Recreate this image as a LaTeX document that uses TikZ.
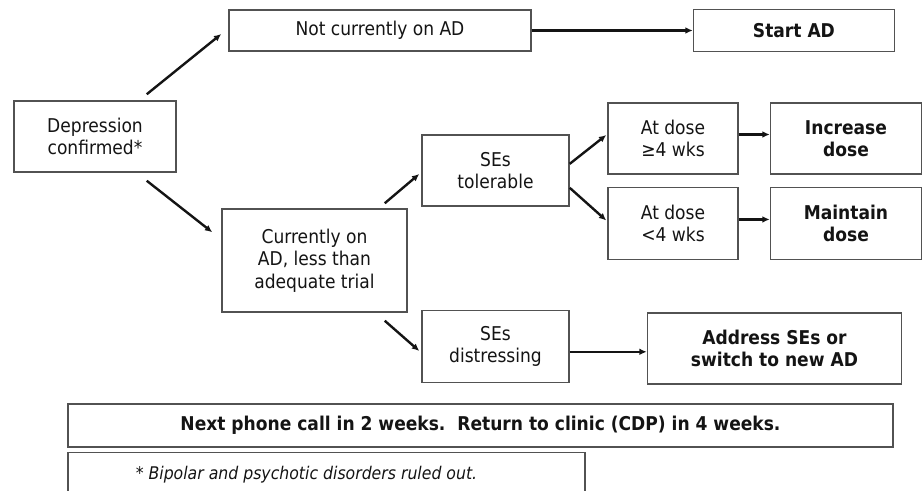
\documentclass[tikz,border=0pt]{standalone}
\usepackage{fontspec}
\setmainfont{DejaVu Sans Condensed}[BoldFont={DejaVu Sans Condensed Bold},ItalicFont={DejaVu Sans Condensed Oblique}]
\usepackage{tikz}
\usetikzlibrary{positioning,arrows.meta}
\colorlet{boxgray}{black!68}
\colorlet{inkgray}{black!92}
\tikzstyle{box}=[draw=boxgray,line width=1.1pt,align=center,inner sep=0pt,text=inkgray,font=\fontsize{14.25}{16.7}\selectfont]
\tikzstyle{boldbox}=[box,font=\fontsize{14.25}{16.7}\selectfont\bfseries]
\tikzstyle{arr}=[line width=1.8pt,draw=inkgray,-{Latex[length=5.5pt,width=5pt]}]

\begin{document}
\begin{tikzpicture}[x=0.75pt,y=-0.75pt]
\useasboundingbox (0,0) rectangle (922,491);

\node[box,minimum width=121.5pt,minimum height=53.25pt] (dep) at (95,136.5) {Depression\\confirmed*};

\node[box,minimum width=226.5pt,minimum height=30.75pt] (notcur) at (380,30.5) {Not currently on AD};
\node[boldbox,minimum width=150.75pt,minimum height=31.5pt,right=120.75pt of notcur] (startad) {Start AD};

\node[box,minimum width=138.75pt,minimum height=77.25pt] (curr) at (314.5,260.5) {Currently on\\AD, less than\\adequate trial};

\node[box,minimum width=110.25pt,minimum height=53.25pt] (setol) at (495.5,170.5) {SEs\\tolerable};
\node[box,minimum width=110.25pt,minimum height=54pt,below=77.25pt of setol] (sedis) {SEs\\distressing};

\node[box,minimum width=97.5pt,minimum height=53.25pt] (adge) at (673,138.5) {At dose\\≥4 wks};
\node[box,minimum width=97.5pt,minimum height=54pt,below=9pt of adge] (adlt) {At dose\\<4 wks};

\node[boldbox,minimum width=113.25pt,minimum height=53.25pt,right=23.25pt of adge] (incr) {Increase\\dose};
\node[boldbox,minimum width=113.25pt,minimum height=54pt,right=23.25pt of adlt] (maint) {Maintain\\dose};

\node[boldbox,minimum width=190.5pt,minimum height=53.25pt,right=57.75pt of sedis,yshift=-1.5pt] (addr) {Address SEs or\\switch to new AD};

\node[boldbox,minimum width=618.75pt,minimum height=32.25pt] (next) at (480.5,425.5) {Next phone call in 2 weeks.\ \ Return to clinic (CDP) in 4 weeks.};
\node[box,minimum width=387.75pt,minimum height=33pt,below=3pt of next.south west,anchor=north west,font=\fontsize{13.1}{15.5}\selectfont\itshape] (foot) {* Bipolar and psychotic disorders ruled out.\hspace*{30pt}};

% connectors
\draw[arr] ([shift={(-30,-6)}]dep.north east) -- ([shift={(-7,3.5)}]notcur.west);
\draw[arr] ([shift={(-30,8)}]dep.south east) -- ([shift={(-9,24)}]curr.north west);
\draw[arr] (notcur.east) -- (startad.west);
\draw[arr] ([shift={(-23,-5)}]curr.north east) -- ([shift={(-2,3.5)}]setol.west);
\draw[arr] ([shift={(-23,8)}]curr.south east) -- ([shift={(-2,4.5)}]sedis.west);
\draw[arr] ([yshift=5pt]setol.east) -- ([shift={(-1,-3.5)}]adge.west);
\draw[arr] ([yshift=-13pt]setol.east) -- ([shift={(-1,-3)}]adlt.west);
\draw[arr] ([yshift=3pt]adge.east) -- ([yshift=3pt]adge.east -| incr.west);
\draw[arr] ([yshift=3pt]adlt.east) -- ([yshift=3pt]adlt.east -| maint.west);
\draw[arr] ([yshift=-4pt]sedis.east) -- ([yshift=-4pt]sedis.east -| addr.west);

\end{tikzpicture}
\end{document}
